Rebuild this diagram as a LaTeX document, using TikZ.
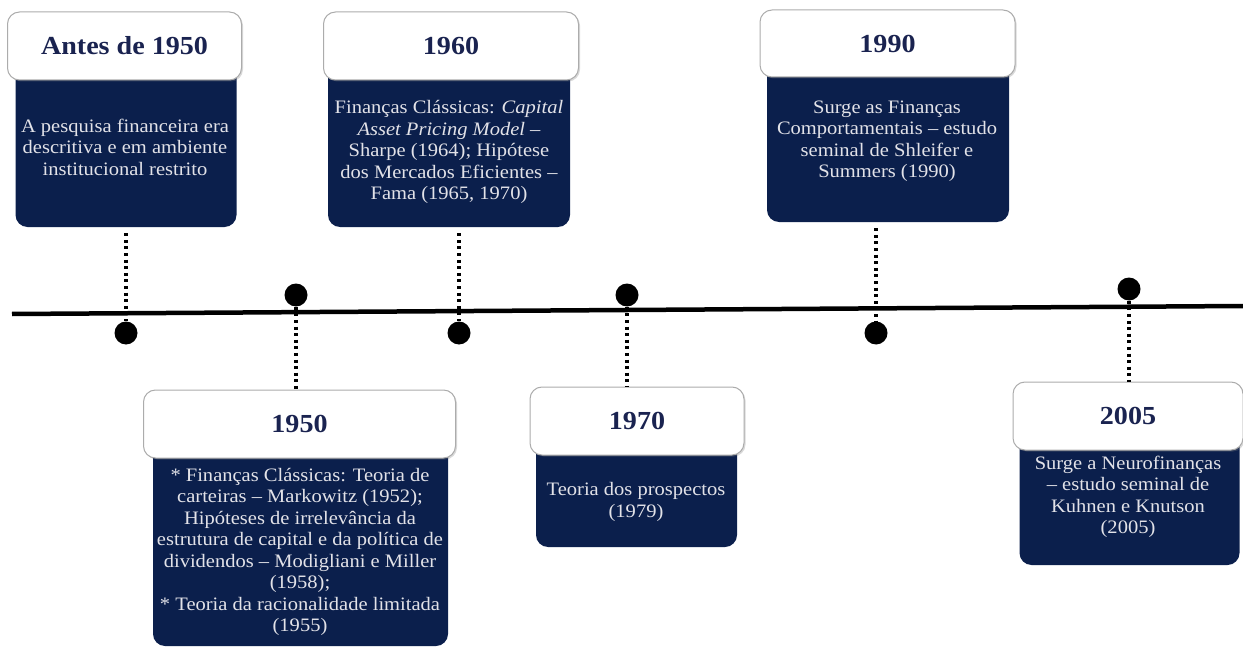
\documentclass[tikz,border=0pt]{standalone}
\usepackage{fontspec}
\setmainfont{Liberation Serif}[FakeStretch=1.08]
\usetikzlibrary{shadows}
\definecolor{navy}{HTML}{0B1F4C}
\definecolor{headtxt}{HTML}{1A2350}
\definecolor{bodytxt}{HTML}{E2E2E8}
\begin{document}
\begin{tikzpicture}[x=1pt,y=-1pt,
  head/.style={draw=gray!65, line width=1pt, fill=white, rounded corners=12pt, inner sep=0pt,
    text=headtxt, font=\fontsize{26}{30}\selectfont\bfseries,
    drop shadow={shadow xshift=1.5pt, shadow yshift=-1.5pt, opacity=0.3}},
  body/.style={fill=navy, rounded corners=12pt, inner sep=0pt},
  bodytext/.style={text=bodytxt, font=\fontsize{19}{21.5}\selectfont, align=center, inner sep=0pt},
  dot/.style={circle, fill=black, minimum size=23pt, inner sep=0pt},
  link/.style={line width=3.2pt, dash pattern=on 3pt off 3.6pt},
  axis/.style={line width=4.5pt}]
\useasboundingbox (0,0) rectangle (1243,650);

% main axis
\coordinate (L) at (12,314);
\coordinate (R) at (1243,306);
\draw[axis] (L) -- (R);

% dots
\node[dot] (d1) at (126,333) {};
\node[dot] (d2) at (459,333) {};
\node[dot] (d3) at (876,333) {};
\node[dot] (d4) at (296,295) {};
\node[dot] (d5) at (627,295) {};
\node[dot] (d6) at (1129,289) {};

% Antes de 1950
\node[body, minimum width=221, minimum height=167] (b1) at (126,143.5) {};
\node[head, minimum width=234, minimum height=68] (h1) at (124.5,46) {Antes de 1950};
\node[bodytext] (t1) at (125,147) {A pesquisa financeira era\\descritiva e em ambiente\\institucional restrito};

% 1960
\node[body, minimum width=242, minimum height=167] (b2) at (449,143.5) {};
\node[head, minimum width=255, minimum height=68] (h2) at (451,46) {1960};
\node[bodytext] (t2) at (449,152) {Finanças Clássicas: \textit{Capital}\\\textit{Asset Pricing Model} –\\Sharpe (1964); Hipótese\\dos Mercados Eficientes –\\Fama (1965, 1970)};

% 1990
\node[body, minimum width=242, minimum height=165] (b3) at (888,139.5) {};
\node[head, minimum width=255, minimum height=67] (h3) at (887.5,43.5) {1990};
\node[bodytext] (t3) at (887,141) {Surge as Finanças\\Comportamentais – estudo\\seminal de Shleifer e\\Summers (1990)};

% 1950
\node[body, minimum width=295, minimum height=206] (b4) at (300.5,543) {};
\node[head, minimum width=312, minimum height=68] (h4) at (299.5,424) {1950};
\node[bodytext] (t4) at (300,552) {* Finanças Clássicas: Teoria de\\carteiras – Markowitz (1952);\\Hipóteses de irrelevância da\\estrutura de capital e da política de\\dividendos – Modigliani e Miller\\(1958);\\* Teoria da racionalidade limitada\\(1955)};

% 1970
\node[body, minimum width=201, minimum height=112] (b5) at (636.5,491) {};
\node[head, minimum width=214, minimum height=68] (h5) at (637,421) {1970};
\node[bodytext] (t5) at (636,502) {Teoria dos prospectos\\(1979)};

% 2005
\node[body, minimum width=220, minimum height=135] (b6) at (1129.5,497.5) {};
\node[head, minimum width=230, minimum height=68] (h6) at (1128,416) {2005};
\node[bodytext] (t6) at (1128,497) {Surge a Neurofinanças\\– estudo seminal de\\Kuhnen e Knutson\\(2005)};

% connectors
\draw[link] ([yshift=-6pt]d1 |- b1.south) -- (d1.north);
\draw[link] ([yshift=-6pt]d2 |- b2.south) -- (d2.north);
\draw[link] ([yshift=-6pt]d3 |- b3.south) -- (d3.north);
\draw[link] (d4.south) -- (d4 |- h4.north);
\draw[link] (d5.south) -- (d5 |- h5.north);
\draw[link] (d6.south) -- (d6 |- h6.north);
\end{tikzpicture}
\end{document}
